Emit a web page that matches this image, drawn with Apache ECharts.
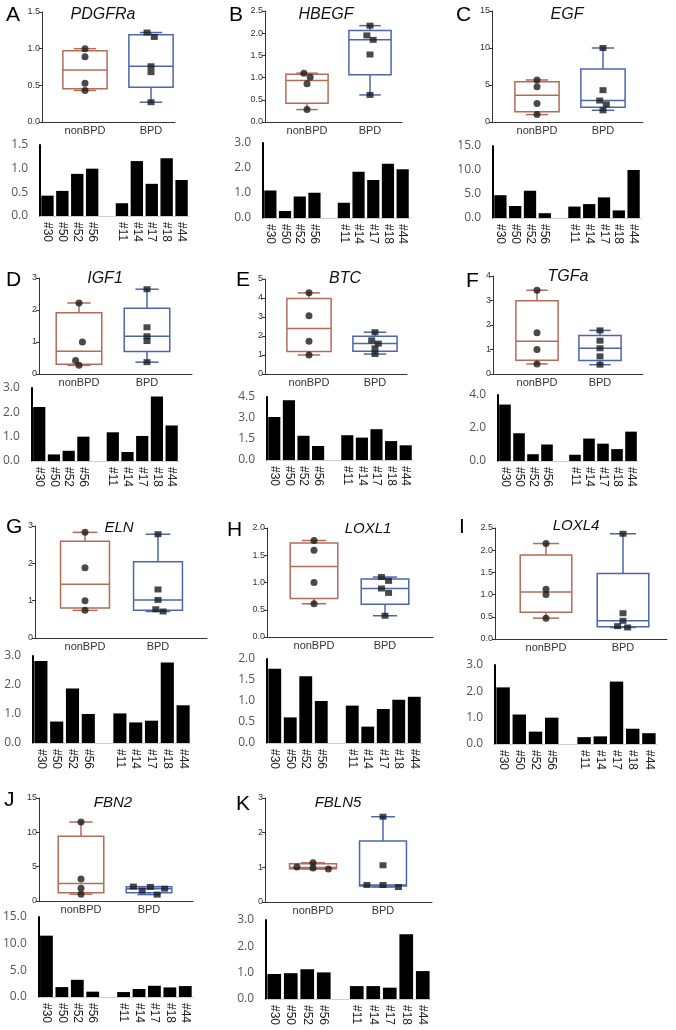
<!DOCTYPE html>
<html><head><meta charset="utf-8">
<script src="https://cdn.jsdelivr.net/npm/echarts@6/dist/echarts.min.js"></script>
<style>html,body{margin:0;padding:0;background:#fff}#c{width:676px;height:1030px}</style>
</head><body><div id="c"></div>
<script>
// ---------------- DATA ----------------
const panelLetters = ['A','B','C','D','E','F','G','H','I','J','K'];
const genes = ['PDGFRa','HBEGF','EGF','IGF1','BTC','TGFa','ELN','LOXL1','LOXL4','FBN2','FBLN5'];
const groups = ['nonBPD','BPD'];
const nonBPDSamples = ['#30','#50','#52','#56'];
const BPDSamples = ['#11','#14','#17','#18','#44'];
const barCategories = ['#30','#50','#52','#56','','#11','#14','#17','#18','#44'];

// per-sample values, order: #30 #50 #52 #56 | #11 #14 #17 #18 #44
const PDGFRa = [0.43,0.53,0.89,1.00, 0.27,1.16,0.68,1.22,0.76];
const HBEGF  = [1.10,0.28,0.86,1.01, 0.61,1.85,1.52,2.17,1.95];
const EGF    = [4.75,2.50,5.68,1.00, 2.38,2.90,4.30,1.58,10.0];
const IGF1   = [2.22,0.27,0.42,1.00, 1.18,0.37,1.03,2.65,1.46];
const BTC    = [3.07,4.27,1.73,1.00, 1.77,1.60,2.20,1.35,1.05];
const TGFa   = [3.42,1.68,0.41,1.00, 0.38,1.36,1.05,0.72,1.78];
const ELN    = [2.83,0.74,1.88,1.00, 1.02,0.71,0.77,2.78,1.30];
const LOXL1  = [1.77,0.61,1.59,1.00, 0.89,0.39,0.81,1.03,1.10];
const LOXL4  = [2.15,1.12,0.47,1.00, 0.26,0.29,2.37,0.58,0.41];
const FBN2   = [11.5,1.86,3.22,1.00, 0.93,1.50,2.10,1.80,2.05];
const FBLN5  = [0.95,0.98,1.13,1.01, 0.49,0.49,0.43,2.46,1.06];
const geneData = [PDGFRa,HBEGF,EGF,IGF1,BTC,TGFa,ELN,LOXL1,LOXL4,FBN2,FBLN5];

// axis scales (tick labels)
const boxYMax  = [1.5,2.5,15,3,5,4,3,2,2.5,15,3];
const boxYStep = [0.5,0.5,5,1,1,1,1,0.5,0.5,5,1];
const barYMax  = [1.5,3,15,3,4.5,4,3,2,3,15,3];
const barYStep = [0.5,1,5,1,1.5,2,1,0.5,1,5,1];

// ---------------- LAYOUT ----------------
// box panel: [yAxisX, xAxisEnd, nonBPD centre, BPD centre, top, bottom]
const boxLayout = [
  [42,175,85,151,12,122],[265,402,307,370,11,122],[492,643,537,603,11,122],
  [39,192,79,147,278,374],[265,407,309,375,279,374],[493,643,537,600,276,374],
  [35,207,85,158,526,638],[267,433,314,385,528,637],[495,667,546,623,528,639],
  [39,193,81,149,798,901],[265,432,313,383,798,902]
];
// bar panel: [left, width, top, bottom]
const barLayout = [
  [40,149,145,216],[263,147,143,218],[493,148,146,218],
  [31,148,388,461],[267,146,397,460],[498,140,395,461],
  [33,158,656,743],[267,155,659,743],[495,162,665,744],
  [34,159,917,997],[266,165,920,999]
];
// horizontal spread of points inside each box (x-axis units)
const pointSpread = [
  [0,0,0,0, 0,0.05,0,-0.06,0],
  [-0.05,0,0,0.05, 0,0.05,0,0,-0.05],
  [0,0,0,0, 0.05,-0.05,0,0,0],
  [0,0,-0.05,0.05, 0,0,0,0,0],
  [0,0,0,0, -0.05,0.05,0,0,0],
  [0,0,0,0, 0,0,0,0,0],
  [0,0,0,0, 0,0.07,-0.03,0,0],
  [0,0,0,0, -0.05,0,0.05,0.05,-0.05],
  [0,0,0,0, 0.06,-0.07,0,0,0],
  [0,0,0,0, 0.12,-0.1,-0.23,0.23,0.02],
  [0.22,0,0,-0.23, -0.23,0,0.22,0,0]
];
const titlePos = [[103,15],[326,15],[567,15],[105,279],[345,279],[568,277],[119,528],[368,529],[576,526],[113,803],[338,803]];
const titleSize = [16,16,16,16,16,16,15,15,15,15,15];
const letterPos = [[6,15],[229,15],[456,15],[6,280],[236,280],[466,281],[6,527],[227,530],[459,527],[4,800],[236,804]];

const boxColors = ['#b26c57','#4d66aa'];

// ---------------- HELPERS ----------------
function quant(s, p) {
  const n = s.length, pos = p * (n + 1);
  if (pos <= 1) return s[0];
  if (pos >= n) return s[n - 1];
  const lo = Math.floor(pos), f = pos - lo;
  return s[lo - 1] + f * (s[lo] - s[lo - 1]);
}
function boxStats(v) {
  const s = v.slice().sort((a, b) => a - b);
  return [s[0], quant(s, 0.25), quant(s, 0.5), quant(s, 0.75), s[s.length - 1]];
}
function renderBox(params, api) {
  const x = api.value(0);
  const color = boxColors[api.value(6)];
  const pMin = api.coord([x, api.value(1)]);
  const pQ1 = api.coord([x, api.value(2)]);
  const pMed = api.coord([x, api.value(3)]);
  const pQ3 = api.coord([x, api.value(4)]);
  const pMax = api.coord([x, api.value(5)]);
  const hw = api.size([0.67, 0])[0] / 2;
  const cw = api.size([0.34, 0])[0] / 2;
  const st = {stroke: color, lineWidth: 1.5, fill: null};
  const cx = pMed[0];
  return {type: 'group', children: [
    {type: 'line', shape: {x1: cx, y1: pMax[1], x2: cx, y2: pQ3[1]}, style: st},
    {type: 'line', shape: {x1: cx, y1: pQ1[1], x2: cx, y2: pMin[1]}, style: st},
    {type: 'line', shape: {x1: cx - cw, y1: pMax[1], x2: cx + cw, y2: pMax[1]}, style: st},
    {type: 'line', shape: {x1: cx - cw, y1: pMin[1], x2: cx + cw, y2: pMin[1]}, style: st},
    {type: 'rect', shape: {x: cx - hw, y: pQ3[1], width: 2 * hw, height: pQ1[1] - pQ3[1]}, style: {stroke: color, lineWidth: 1.5, fill: 'rgba(0,0,0,0)'}},
    {type: 'line', shape: {x1: cx - hw, y1: pMed[1], x2: cx + hw, y2: pMed[1]}, style: st}
  ]};
}

// ---------------- OPTION ----------------
const option = {animation: false, grid: [], xAxis: [], yAxis: [], series: [], title: []};

genes.forEach((g, i) => {
  const vals = geneData[i];
  const nb = vals.slice(0, 4), bp = vals.slice(4);
  const [L, R, c0, c1, top, bot] = boxLayout[i];
  const unit = c1 - c0;
  const gb = 2 * i, gr = 2 * i + 1;
  const dec = boxYStep[i] < 1 ? 1 : 0;

  // --- box plot grid ---
  option.grid.push({left: L, top: top, width: R - L, height: bot - top});
  option.xAxis.push({
    type: 'value', gridIndex: gb, min: -(c0 - L) / unit, max: (R - c0) / unit,
    axisLine: {show: true, onZero: false, lineStyle: {color: '#333', width: 1}},
    axisTick: {show: false}, splitLine: {show: false},
    axisLabel: {customValues: [0, 1], formatter: v => groups[Math.round(v)] || '',
      fontSize: 11, color: '#333', margin: 3, fontFamily: 'Liberation Sans'}
  });
  option.yAxis.push({
    type: 'value', gridIndex: gb, min: 0, max: boxYMax[i], interval: boxYStep[i],
    axisLine: {show: true, onZero: false, lineStyle: {color: '#333', width: 1}},
    axisTick: {show: true, length: 3, lineStyle: {color: '#333'}},
    splitLine: {show: false},
    axisLabel: {fontSize: 9, color: '#333', margin: 2, fontFamily: 'Liberation Sans',
      formatter: v => v.toFixed(dec)}
  });
  option.series.push({
    type: 'custom', xAxisIndex: gb, yAxisIndex: gb, silent: true,
    data: [[0].concat(boxStats(nb), [0]), [1].concat(boxStats(bp), [1])],
    encode: {x: 0, y: [1, 2, 3, 4, 5]},
    renderItem: renderBox, z: 2
  });
  option.series.push({
    type: 'scatter', xAxisIndex: gb, yAxisIndex: gb, silent: true, z: 3,
    symbol: 'circle', symbolSize: 7, itemStyle: {color: '#1b1b1b'},
    data: nb.map((v, k) => [0 + pointSpread[i][k], v])
  });
  option.series.push({
    type: 'scatter', xAxisIndex: gb, yAxisIndex: gb, silent: true, z: 3,
    symbol: 'rect', symbolSize: [7, 6], itemStyle: {color: '#1b1b1b'},
    data: bp.map((v, k) => [1 + pointSpread[i][k + 4], v])
  });

  // --- bar chart grid ---
  const [bl, bw, bt, bb] = barLayout[i];
  option.grid.push({left: bl, top: bt, width: bw, height: bb - bt});
  option.xAxis.push({
    type: 'category', gridIndex: gr, data: barCategories,
    axisLine: {show: true, lineStyle: {color: '#cfcfcf', width: 1}},
    axisTick: {show: false},
    axisLabel: {rotate: -90, interval: 0, fontSize: 12, color: '#222', margin: 6,
      fontFamily: 'Liberation Sans'}
  });
  option.yAxis.push({
    type: 'value', gridIndex: gr, min: 0, max: barYMax[i], interval: barYStep[i],
    axisLine: {show: true, lineStyle: {color: '#000', width: 2}},
    axisTick: {show: false}, splitLine: {show: false},
    axisLabel: {fontSize: 12, color: '#555', margin: 12, fontFamily: 'Open Sans',
      formatter: v => v.toFixed(1)}
  });
  option.series.push({
    type: 'bar', xAxisIndex: gr, yAxisIndex: gr, silent: true,
    barCategoryGap: '17%', itemStyle: {color: '#000'},
    data: nb.concat([null], bp)
  });

  // --- titles ---
  option.title.push({
    text: g, left: titlePos[i][0], top: titlePos[i][1], padding: 0,
    textAlign: 'center', textVerticalAlign: 'middle',
    textStyle: {fontSize: titleSize[i], fontStyle: 'italic', fontWeight: 'normal',
      fontFamily: 'Liberation Sans', color: '#111'}
  });
  option.title.push({
    text: panelLetters[i], left: letterPos[i][0], top: letterPos[i][1], padding: 0,
    textAlign: 'left', textVerticalAlign: 'middle',
    textStyle: {fontSize: 21, fontWeight: 'normal', fontFamily: 'Liberation Sans', color: '#000'}
  });
});

const chart = echarts.init(document.getElementById('c'), null, {renderer: 'canvas'});
chart.setOption(option);
</script>
</body></html>
